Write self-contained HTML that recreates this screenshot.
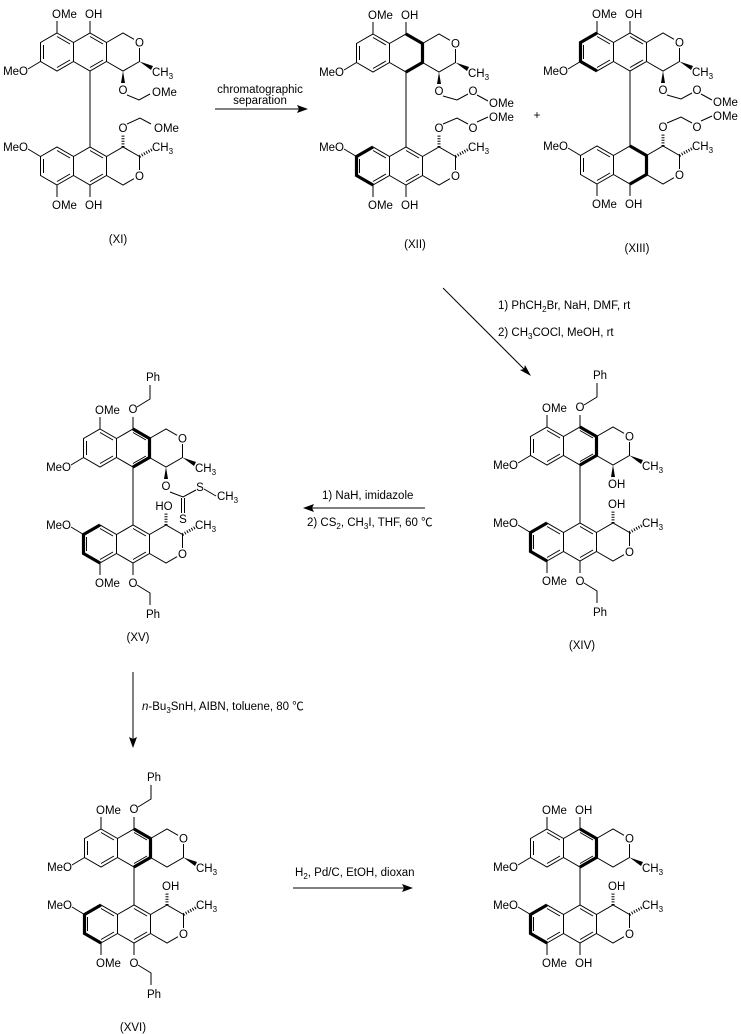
<!DOCTYPE html>
<html><head><meta charset="utf-8"><style>
html,body{margin:0;padding:0;background:#fff;}
svg{display:block;}
text{font-family:"Liberation Sans","Noto Sans CJK SC",sans-serif;font-size:11.5px;fill:#000;}
</style></head><body>
<svg width="741" height="1034" viewBox="0 0 741 1034" xmlns="http://www.w3.org/2000/svg">
<defs>
<g id="core" fill="none" stroke="#000" stroke-width="1">
<path d="M-33,-38 L-16.5,-28.5 L-16.5,-9.5 L-33,0 L-49.5,-9.5 L-49.5,-28.5 Z"/>
<path d="M-16.5,-28.5 L0,-38 L16.5,-28.5 L16.5,-9.5 L0,0 L-16.5,-9.5"/>
<path d="M16.5,-28.5 L33,-38 L44,-31.7 M49.5,-23 L49.5,-9.5 L33,0 L16.5,-9.5"/>
<path d="M-33,-34.5 L-20,-27 M-46.5,-12 L-46.5,-26 M-20,-11 L-33,-3.5"/>
</g>
<g id="arom" fill="none" stroke="#000" stroke-width="1">
<path d="M0,-34.5 L13,-27 M13,-11 L0,-3.5"/>
</g>
<path id="boldM" d="M0,-38 L16.5,-28.5 L16.5,-9.5 L0,0" fill="none" stroke="#000" stroke-width="3.2"/>
<path id="boldL" d="M-33,-38 L-49.5,-28.5 L-49.5,-9.5 L-33,0" fill="none" stroke="#000" stroke-width="3.2"/>
<g id="topCommon" stroke="#000" stroke-width="1" fill="#000">
<line x1="-33" y1="-38" x2="-33" y2="-50"/>
<line x1="-49.5" y1="-9.5" x2="-62" y2="-2"/>
<polygon points="49.5,-9.5 63,-5 61,-1" stroke="none"/>
</g>
<g id="botCommon" stroke="#000" stroke-width="1" fill="none">
<line x1="-33" y1="38" x2="-33" y2="50"/>
<line x1="-49.5" y1="9.5" x2="-62" y2="2"/>
<line x1="49.5" y1="9.5" x2="63" y2="2" stroke-width="3" stroke-dasharray="1 1.6"/>
</g>
<polygon id="wedgeO" points="33,0 31,12 35,12" fill="#000"/>
<line id="hashO" x1="33" y1="0" x2="33" y2="-12" stroke="#000" stroke-width="3" stroke-dasharray="1 1.6"/>
</defs>

<!-- ============ XI ============ -->
<line x1="90" y1="71" x2="90" y2="147" stroke="#000"/>
<g transform="translate(90,71)">
<use href="#core"/><use href="#arom"/><use href="#topCommon"/><use href="#wedgeO"/>
<line x1="0" y1="-38" x2="0" y2="-50" stroke="#000"/>
<path d="M37,24 L49,29 L60,23" fill="none" stroke="#000"/>
<text x="-38" y="-53">OMe</text><text x="-5" y="-53">OH</text>
<text x="-62" y="4" text-anchor="end">MeO</text>
<text x="49.5" y="-24.5" text-anchor="middle">O</text>
<text x="62" y="5">CH<tspan font-size="8" dy="3">3</tspan></text>
<text x="33" y="23" text-anchor="middle">O</text><text x="62" y="25">OMe</text>
</g>
<g transform="translate(90,147)">
<use href="#core" transform="scale(1,-1)"/><use href="#arom" transform="scale(1,-1)"/><use href="#botCommon"/><use href="#hashO"/>
<line x1="0" y1="38" x2="0" y2="50" stroke="#000"/>
<path d="M37,-23 L50,-29 L61,-23" fill="none" stroke="#000"/>
<text x="-38" y="62">OMe</text><text x="-5" y="62">OH</text>
<text x="-62" y="4" text-anchor="end">MeO</text>
<text x="49.5" y="33" text-anchor="middle">O</text>
<text x="62" y="4">CH<tspan font-size="8" dy="3">3</tspan></text>
<text x="33" y="-15" text-anchor="middle">O</text><text x="64" y="-15">OMe</text>
</g>
<text x="118" y="243" text-anchor="middle">(XI)</text>

<!-- arrow 1 -->
<line x1="215" y1="109" x2="302" y2="109" stroke="#000"/>
<polygon points="308,109 297,105 299,109 297,113" fill="#000"/>
<text x="260" y="93" text-anchor="middle">chromatographic</text>
<text x="260" y="104" text-anchor="middle">separation</text>

<!-- ============ XII ============ -->
<line x1="406" y1="72" x2="406" y2="147" stroke="#000"/>
<g transform="translate(406,72)">
<use href="#core"/><use href="#boldM"/><use href="#topCommon"/><use href="#wedgeO"/>
<line x1="0" y1="-38" x2="0" y2="-50" stroke="#000"/>
<path d="M37,24 L51,28 L62,22 M71,23 L82,29" fill="none" stroke="#000"/>
<text x="-38" y="-53">OMe</text><text x="-5" y="-53">OH</text>
<text x="-62" y="4" text-anchor="end">MeO</text>
<text x="49.5" y="-24.5" text-anchor="middle">O</text>
<text x="62" y="5">CH<tspan font-size="8" dy="3">3</tspan></text>
<text x="33" y="23" text-anchor="middle">O</text><text x="67" y="23" text-anchor="middle">O</text><text x="83" y="35">OMe</text>
</g>
<g transform="translate(406,147)">
<use href="#core" transform="scale(1,-1)"/><use href="#arom" transform="scale(1,-1)"/><use href="#boldL" transform="scale(1,-1)"/><use href="#botCommon"/><use href="#hashO"/>
<line x1="0" y1="38" x2="0" y2="50" stroke="#000"/>
<path d="M37,-23 L51,-29 L62,-23 M71,-25 L82,-30" fill="none" stroke="#000"/>
<text x="-38" y="62">OMe</text><text x="-5" y="62">OH</text>
<text x="-62" y="4" text-anchor="end">MeO</text>
<text x="49.5" y="33" text-anchor="middle">O</text>
<text x="62" y="4">CH<tspan font-size="8" dy="3">3</tspan></text>
<text x="33" y="-15" text-anchor="middle">O</text><text x="67" y="-15" text-anchor="middle">O</text><text x="83" y="-26">OMe</text>
</g>
<text x="415" y="248" text-anchor="middle">(XII)</text>
<text x="537" y="119" text-anchor="middle">+</text>

<!-- ============ XIII ============ -->
<line x1="630" y1="71" x2="630" y2="146" stroke="#000"/>
<g transform="translate(630,71)">
<use href="#core"/><use href="#arom"/><use href="#boldL"/><use href="#topCommon"/><use href="#wedgeO"/>
<line x1="0" y1="-38" x2="0" y2="-50" stroke="#000"/>
<path d="M37,24 L51,28 L62,22 M71,23 L82,29" fill="none" stroke="#000"/>
<text x="-38" y="-53">OMe</text><text x="-5" y="-53">OH</text>
<text x="-62" y="4" text-anchor="end">MeO</text>
<text x="49.5" y="-24.5" text-anchor="middle">O</text>
<text x="62" y="5">CH<tspan font-size="8" dy="3">3</tspan></text>
<text x="33" y="23" text-anchor="middle">O</text><text x="67" y="23" text-anchor="middle">O</text><text x="83" y="35">OMe</text>
</g>
<g transform="translate(630,146)">
<use href="#core" transform="scale(1,-1)"/><use href="#boldM" transform="scale(1,-1)"/><use href="#botCommon"/><use href="#hashO"/>
<line x1="0" y1="38" x2="0" y2="50" stroke="#000"/>
<path d="M37,-23 L51,-29 L62,-23 M71,-25 L82,-30" fill="none" stroke="#000"/>
<text x="-38" y="62">OMe</text><text x="-5" y="62">OH</text>
<text x="-62" y="4" text-anchor="end">MeO</text>
<text x="49.5" y="33" text-anchor="middle">O</text>
<text x="62" y="4">CH<tspan font-size="8" dy="3">3</tspan></text>
<text x="33" y="-15" text-anchor="middle">O</text><text x="67" y="-15" text-anchor="middle">O</text><text x="83" y="-26">OMe</text>
</g>
<text x="637" y="252" text-anchor="middle">(XIII)</text>

<!-- arrow 2 diagonal -->
<line x1="443" y1="288" x2="527" y2="372" stroke="#000"/>
<polygon points="531,376 520,370 524,369 525,365" fill="#000"/>
<text x="498" y="309">1) PhCH<tspan font-size="8" dy="3">2</tspan><tspan dy="-3">Br, NaH, DMF, rt</tspan></text>
<text x="498" y="336">2) CH<tspan font-size="8" dy="3">3</tspan><tspan dy="-3">COCl, MeOH, rt</tspan></text>

<!-- ============ XIV ============ -->
<line x1="580" y1="465" x2="580" y2="523" stroke="#000"/>
<g transform="translate(580,465)">
<use href="#core"/><use href="#arom"/><use href="#boldM"/><use href="#topCommon"/><use href="#wedgeO"/>
<line x1="0" y1="-38" x2="0" y2="-50" stroke="#000"/>
<path d="M4,-60 L17,-68 L17,-82" fill="none" stroke="#000"/>
<text x="-38" y="-53">OMe</text><text x="0" y="-54" text-anchor="middle">O</text><text x="13" y="-86">Ph</text>
<text x="-62" y="4" text-anchor="end">MeO</text>
<text x="49.5" y="-24.5" text-anchor="middle">O</text>
<text x="62" y="5">CH<tspan font-size="8" dy="3">3</tspan></text>
<text x="28" y="23">OH</text>
</g>
<g transform="translate(580,523)">
<use href="#core" transform="scale(1,-1)"/><use href="#arom" transform="scale(1,-1)"/><use href="#boldL" transform="scale(1,-1)"/><use href="#botCommon"/><use href="#hashO"/>
<line x1="0" y1="38" x2="0" y2="50" stroke="#000"/>
<path d="M4,60 L17,68 L17,80" fill="none" stroke="#000"/>
<text x="-38" y="62">OMe</text><text x="0" y="62" text-anchor="middle">O</text><text x="13" y="93">Ph</text>
<text x="-62" y="4" text-anchor="end">MeO</text>
<text x="49.5" y="33" text-anchor="middle">O</text>
<text x="62" y="4">CH<tspan font-size="8" dy="3">3</tspan></text>
<text x="28" y="-15">OH</text>
</g>
<text x="582" y="649" text-anchor="middle">(XIV)</text>

<!-- arrow 3 left -->
<line x1="309" y1="508" x2="425" y2="508" stroke="#000"/>
<polygon points="303,508 314,504 312,508 314,512" fill="#000"/>
<text x="322" y="499">1) NaH, imidazole</text>
<text x="307" y="526">2) CS<tspan font-size="8" dy="3">2</tspan><tspan dy="-3">, CH</tspan><tspan font-size="8" dy="3">3</tspan><tspan dy="-3">I, THF, 60 ℃</tspan></text>

<!-- ============ XV ============ -->
<line x1="133" y1="467" x2="133" y2="525" stroke="#000"/>
<g transform="translate(133,467)">
<use href="#core"/><use href="#arom"/><use href="#boldM"/><use href="#topCommon"/><use href="#wedgeO"/>
<line x1="0" y1="-38" x2="0" y2="-50" stroke="#000"/>
<path d="M4,-60 L17,-68 L17,-82" fill="none" stroke="#000"/>
<path d="M37,25 L50,30 L63,23 M71,22 L83,29 M48.5,31 L48.5,46 M51.5,31 L51.5,46" fill="none" stroke="#000"/>
<text x="-38" y="-53">OMe</text><text x="0" y="-54" text-anchor="middle">O</text><text x="13" y="-86">Ph</text>
<text x="-62" y="4" text-anchor="end">MeO</text>
<text x="49.5" y="-24.5" text-anchor="middle">O</text>
<text x="62" y="5">CH<tspan font-size="8" dy="3">3</tspan></text>
<text x="33" y="23" text-anchor="middle">O</text>
<text x="67" y="24" text-anchor="middle">S</text>
<text x="50" y="56" text-anchor="middle">S</text>
<text x="84" y="33">CH<tspan font-size="8" dy="3">3</tspan></text>
</g>
<g transform="translate(133,525)">
<use href="#core" transform="scale(1,-1)"/><use href="#arom" transform="scale(1,-1)"/><use href="#boldL" transform="scale(1,-1)"/><use href="#botCommon"/><use href="#hashO"/>
<line x1="0" y1="38" x2="0" y2="50" stroke="#000"/>
<path d="M4,60 L17,68 L17,80" fill="none" stroke="#000"/>
<text x="-38" y="62">OMe</text><text x="0" y="62" text-anchor="middle">O</text><text x="13" y="93">Ph</text>
<text x="-62" y="4" text-anchor="end">MeO</text>
<text x="49.5" y="33" text-anchor="middle">O</text>
<text x="62" y="4">CH<tspan font-size="8" dy="3">3</tspan></text>
<text x="31" y="-15" text-anchor="middle">HO</text>
</g>
<text x="138" y="641" text-anchor="middle">(XV)</text>

<!-- arrow 4 down -->
<line x1="133" y1="672" x2="133" y2="742" stroke="#000"/>
<polygon points="133,748 129,737 133,739 137,737" fill="#000"/>
<text x="142" y="710"><tspan font-style="italic">n</tspan>-Bu<tspan font-size="8" dy="3">3</tspan><tspan dy="-3">SnH, AIBN, toluene, 80 ℃</tspan></text>

<!-- ============ XVI ============ -->
<line x1="134" y1="867" x2="134" y2="905" stroke="#000"/>
<g transform="translate(134,867)">
<use href="#core"/><use href="#arom"/><use href="#boldM"/><use href="#topCommon"/>
<line x1="0" y1="-38" x2="0" y2="-50" stroke="#000"/>
<path d="M4,-60 L17,-68 L17,-82" fill="none" stroke="#000"/>
<text x="-38" y="-53">OMe</text><text x="0" y="-54" text-anchor="middle">O</text><text x="13" y="-86">Ph</text>
<text x="-62" y="4" text-anchor="end">MeO</text>
<text x="49.5" y="-24.5" text-anchor="middle">O</text>
<text x="62" y="5">CH<tspan font-size="8" dy="3">3</tspan></text>
</g>
<g transform="translate(134,905)">
<use href="#core" transform="scale(1,-1)"/><use href="#arom" transform="scale(1,-1)"/><use href="#boldL" transform="scale(1,-1)"/><use href="#botCommon"/><use href="#hashO"/>
<line x1="0" y1="38" x2="0" y2="50" stroke="#000"/>
<path d="M4,60 L17,68 L17,80" fill="none" stroke="#000"/>
<text x="-38" y="62">OMe</text><text x="0" y="62" text-anchor="middle">O</text><text x="13" y="93">Ph</text>
<text x="-62" y="4" text-anchor="end">MeO</text>
<text x="49.5" y="33" text-anchor="middle">O</text>
<text x="62" y="4">CH<tspan font-size="8" dy="3">3</tspan></text>
<text x="28" y="-15">OH</text>
</g>
<text x="133" y="1031" text-anchor="middle">(XVI)</text>

<!-- arrow 5 -->
<line x1="293" y1="888" x2="407" y2="888" stroke="#000"/>
<polygon points="413,888 402,884 404,888 402,892" fill="#000"/>
<text x="295" y="876">H<tspan font-size="8" dy="3">2</tspan><tspan dy="-3">, Pd/C, EtOH, dioxan</tspan></text>

<!-- ============ Final ============ -->
<line x1="580" y1="867" x2="580" y2="905" stroke="#000"/>
<g transform="translate(580,867)">
<use href="#core"/><use href="#arom"/><use href="#boldM"/><use href="#topCommon"/>
<line x1="0" y1="-38" x2="0" y2="-50" stroke="#000"/>
<text x="-38" y="-53">OMe</text><text x="-5" y="-53">OH</text>
<text x="-62" y="4" text-anchor="end">MeO</text>
<text x="49.5" y="-24.5" text-anchor="middle">O</text>
<text x="62" y="5">CH<tspan font-size="8" dy="3">3</tspan></text>
</g>
<g transform="translate(580,905)">
<use href="#core" transform="scale(1,-1)"/><use href="#arom" transform="scale(1,-1)"/><use href="#boldL" transform="scale(1,-1)"/><use href="#botCommon"/><use href="#hashO"/>
<line x1="0" y1="38" x2="0" y2="50" stroke="#000"/>
<text x="-38" y="62">OMe</text><text x="-5" y="62">OH</text>
<text x="-62" y="4" text-anchor="end">MeO</text>
<text x="49.5" y="33" text-anchor="middle">O</text>
<text x="62" y="4">CH<tspan font-size="8" dy="3">3</tspan></text>
<text x="28" y="-15">OH</text>
</g>
</svg>
</body></html>
